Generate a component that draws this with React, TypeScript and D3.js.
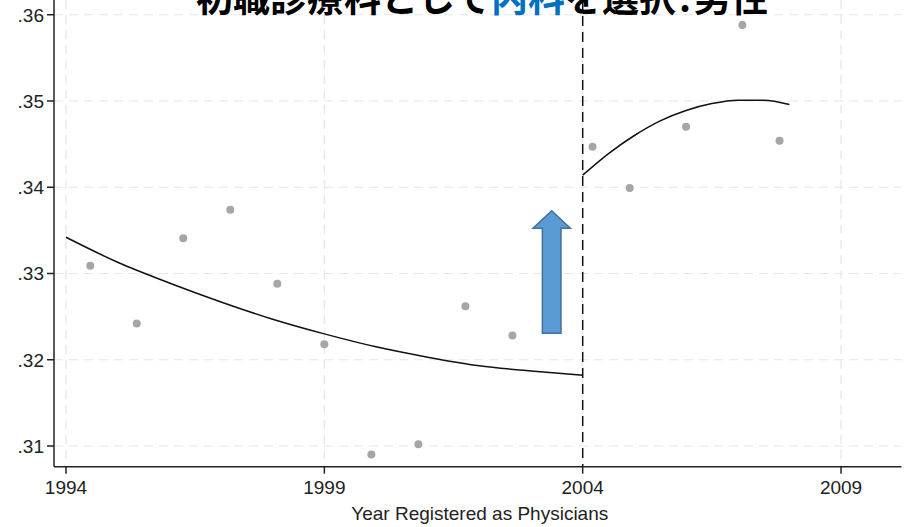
import React from "react";
import * as d3 from "d3";

// Binned shares of male physicians choosing internal medicine as first specialty
const binYears = [1994.47, 1995.37, 1996.27, 1997.18, 1998.09, 1999.0, 1999.91, 2000.82, 2001.73, 2002.64, 2004.19, 2004.91, 2006.0, 2007.09, 2007.81];
const binShares = [0.3309, 0.3242, 0.3341, 0.3374, 0.3288, 0.3218, 0.309, 0.3102, 0.3262, 0.3228, 0.3447, 0.3399, 0.347, 0.3588, 0.3454];

// Fitted trend before the 2004 reform
const fitPreYears = [1994, 1995, 1996, 1997, 1998, 1999, 2000, 2001, 2002, 2003, 2004];
const fitPreValues = [0.3342, 0.3313, 0.3289, 0.3267, 0.3247, 0.323, 0.3215, 0.3203, 0.3193, 0.3187, 0.3182];

// Fitted trend after the 2004 reform
const fitPostYears = [2004, 2004.5, 2005, 2005.5, 2006, 2006.5, 2007, 2007.5, 2008];
const fitPostValues = [0.3414, 0.3439, 0.346, 0.3477, 0.3489, 0.3497, 0.3501, 0.3501, 0.3496];

const xTicks = [1994, 1999, 2004, 2009];
const yTicks = [0.31, 0.32, 0.33, 0.34, 0.35, 0.36];
const cutoffYear = 2004;

// Jump annotation arrow (year, share units)
const arrowX = 2003.4;
const arrowTip = 0.33728;
const arrowHeadBase = 0.33524;
const arrowBottom = 0.32307;
const arrowHeadHalf = 0.362;
const arrowShaftHalf = 0.18;

const W = 906;
const H = 527;
const left = 54;
const right = 901.5;
const top = 0;
const bottom = 466.7;

const FONT = "'Liberation Sans', Arial, Helvetica, sans-serif";

export default function App() {
  const x = d3.scaleLinear().domain([1993.768, 2010.17]).range([left, right]);
  const y = d3.scaleLinear().domain([0.3076, 0.36171]).range([bottom, top]);

  const line = d3
    .line<[number, number]>()
    .x((d) => x(d[0]))
    .y((d) => y(d[1]))
    .curve(d3.curveMonotoneX);

  const pre = fitPreYears.map((yr, i) => [yr, fitPreValues[i]] as [number, number]);
  const post = fitPostYears.map((yr, i) => [yr, fitPostValues[i]] as [number, number]);

  const arrowPts: [number, number][] = [
    [arrowX, arrowTip],
    [arrowX + arrowHeadHalf, arrowHeadBase],
    [arrowX + arrowShaftHalf, arrowHeadBase],
    [arrowX + arrowShaftHalf, arrowBottom],
    [arrowX - arrowShaftHalf, arrowBottom],
    [arrowX - arrowShaftHalf, arrowHeadBase],
    [arrowX - arrowHeadHalf, arrowHeadBase],
  ];
  const arrowPath =
    "M" + arrowPts.map((p) => `${x(p[0])},${y(p[1])}`).join("L") + "Z";

  return (
    <svg
      width={W}
      height={H}
      style={{ position: "absolute", left: 0, top: 0, background: "#fff" }}
    >
      <rect width={W} height={H} fill="#fff" />

      {/* grid */}
      {yTicks.map((t) => (
        <line
          key={"gy" + t}
          x1={left}
          x2={right}
          y1={y(t)}
          y2={y(t)}
          stroke="#e6e6e6"
          strokeWidth={1.2}
          strokeDasharray="9 6"
        />
      ))}
      {xTicks.map((t) => (
        <line
          key={"gx" + t}
          x1={x(t)}
          x2={x(t)}
          y1={top}
          y2={bottom}
          stroke="#e6e6e6"
          strokeWidth={1.2}
          strokeDasharray="9 6"
        />
      ))}

      {/* cutoff line */}
      <line
        x1={x(cutoffYear)}
        x2={x(cutoffYear)}
        y1={top}
        y2={bottom}
        stroke="#111"
        strokeWidth={1.5}
        strokeDasharray="10 6"
      />

      {/* binned points */}
      {binYears.map((yr, i) => (
        <circle key={"p" + i} cx={x(yr)} cy={y(binShares[i])} r={4} fill="#a6a6a6" />
      ))}

      {/* fitted curves */}
      <path d={line(pre) || ""} fill="none" stroke="#111" strokeWidth={1.5} />
      <path d={line(post) || ""} fill="none" stroke="#111" strokeWidth={1.5} />

      {/* arrow */}
      <path d={arrowPath} fill="#5b9bd5" stroke="#41719c" strokeWidth={1.5} strokeLinejoin="miter" />

      {/* axes */}
      <line x1={left} x2={left} y1={top} y2={bottom} stroke="#222" strokeWidth={1.5} />
      <line x1={left} x2={right} y1={bottom} y2={bottom} stroke="#222" strokeWidth={1.5} />
      {yTicks.map((t) => (
        <g key={"ty" + t}>
          <line x1={left - 7} x2={left} y1={y(t)} y2={y(t)} stroke="#222" strokeWidth={1.5} />
          <text
            x={left - 10}
            y={y(t)}
            dy="0.36em"
            textAnchor="end"
            fontFamily={FONT}
            fontSize={19}
            fill="#222"
          >
            {d3.format(".2f")(t).replace(/^0/, "")}
          </text>
        </g>
      ))}
      {xTicks.map((t) => (
        <g key={"tx" + t}>
          <line x1={x(t)} x2={x(t)} y1={bottom} y2={bottom + 7} stroke="#222" strokeWidth={1.5} />
          <text
            x={x(t)}
            y={494}
            textAnchor="middle"
            fontFamily={FONT}
            fontSize={19}
            fill="#222"
          >
            {t}
          </text>
        </g>
      ))}
      <text
        x={(left + right) / 2 + 2}
        y={520}
        textAnchor="middle"
        fontFamily={FONT}
        fontSize={19}
        fill="#222"
      >
        Year Registered as Physicians
      </text>

      {/* title */}
      <text
        x={196}
        y={12}
        fontFamily="'Noto Sans CJK JP', sans-serif"
        fontWeight={700}
        fontSize={37}
        fill="#000"
      >
        <tspan>初職診療科として</tspan>
        <tspan fill="#0070c0">内科</tspan>
        <tspan>を選択</tspan>
        <tspan dx={3}>:</tspan>
        <tspan dx={3}>男性</tspan>
      </text>
    </svg>
  );
}
